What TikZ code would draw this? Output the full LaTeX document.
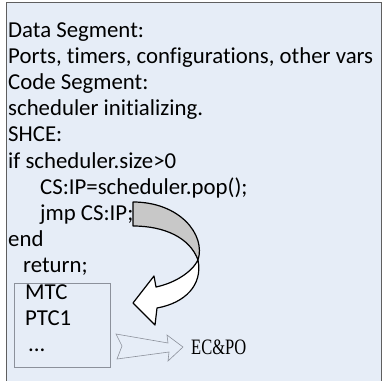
\documentclass[tikz,border=0pt]{standalone}
\usepackage{fontspec}
\setmainfont{Carlito}[Ligatures=NoCommon]
\newfontfamily\ecfont{Liberation Serif}

\definecolor{slidebg}{RGB}{230,237,247}
\definecolor{framegray}{RGB}{95,95,95}
\definecolor{boxgray}{RGB}{140,145,155}
\definecolor{foldgray}{RGB}{200,200,200}

\begin{document}
\begin{tikzpicture}[x=1pt,y=-1pt,
    codeline/.style={anchor=base west,inner sep=0pt,font=\fontsize{22.8}{26}\selectfont},
    band/.style={draw=black,line width=1.2pt,line join=round},
    hollow/.style={draw=boxgray,line width=0.6pt,fill=slidebg}]
  \useasboundingbox (0,0) rectangle (382,380);
  \fill[white] (0,0) rectangle (382,380);
  \draw[framegray,fill=slidebg,line width=1pt] (6,2) rectangle (381,392);

  % code listing
  \node[codeline] (data) at (8,37) {Data Segment:};
  \node[codeline] (vars) at (8,63.2) {Ports, timers, configurations, other vars};
  \node[codeline] (code) at (8,89.4) {Code Segment:};
  \node[codeline] (init) at (8,115.6) {scheduler initializing.};
  \node[codeline] (shce) at (8,141.8) {SHCE:};
  \node[codeline] (cond) at (8,168) {if scheduler.size>0};
  \node[codeline] (pop) at (40,194.2) {CS:IP=scheduler.pop();};
  \node[codeline] (jmp) at (40,220.4) {jmp CS:IP;};
  \node[codeline] (end) at (8,246.6) {end};
  \node[codeline] (ret) at (23,272.8) {return;};
  \node[codeline] (mtc) at (25,299) {MTC};
  \node[codeline] (ptc) at (25,325.2) {PTC1};
  \node[codeline] (more) at (28,351.4) {...};
  \draw[boxgray,line width=0.8pt] (14,283) rectangle (110,367);

  % twisted arrow from jmp back to the task list
  \draw[band,fill=foldgray] (133,202) .. controls (180,202) and (206,235) .. (198,260)
    .. controls (190,238) and (165,226) .. (133,226) -- cycle;
  \draw[band,fill=white] (198,260) .. controls (192,272) and (175,283) .. (156,287)
    -- (154,276) -- (133,303) -- (155,325) -- (157,308)
    .. controls (185,303) and (203,285) .. (198,260);

  % hand over to EC&PO
  \draw[hollow] (116,334) -- (168,343) -- (167,335) -- (183,347) -- (168,361)
    -- (169,352) -- (117,359) -- (122,346) -- cycle;
  \node[anchor=base west,inner sep=0pt,font=\ecfont\fontsize{22}{22}\selectfont]
    (ecpo) at (191,354) {\scalebox{0.75}[1]{EC\&PO}};
\end{tikzpicture}
\end{document}
